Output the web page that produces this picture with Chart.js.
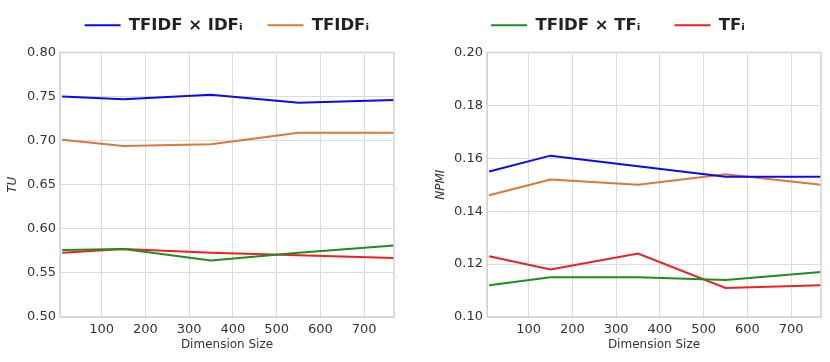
<!DOCTYPE html>
<html>
<head>
<meta charset="utf-8">
<script src="https://cdn.jsdelivr.net/npm/chart.js@4.4.1/dist/chart.umd.min.js"></script>
<style>
  html, body { margin: 0; padding: 0; background: #fff; }
  .wrap { position: absolute; top: 0; width: 415px; height: 362px; }
  #left { left: 0; }
  #right { left: 415px; }
</style>
</head>
<body>
<div class="wrap" id="left"><canvas id="tuChart"></canvas></div>
<div class="wrap" id="right"><canvas id="npmiChart"></canvas></div>
<script>
// Tamaños de dimensión (eje x)
const dimensionSizes = [10, 150, 350, 550, 768];
const xTicks = [100, 200, 300, 400, 500, 600, 700];

// Series TU
const tuTfidfIdf = [0.750, 0.747, 0.752, 0.743, 0.746];
const tuTfidf = [0.701, 0.694, 0.696, 0.709, 0.709];
const tuTfidfTf = [0.576, 0.577, 0.564, 0.573, 0.581];
const tuTf = [0.573, 0.577, 0.573, 0.570, 0.567];
const tuTicks = [0.50, 0.55, 0.60, 0.65, 0.70, 0.75, 0.80];

// Series NPMI
const npmiTfidfIdf = [0.155, 0.161, 0.157, 0.153, 0.153];
const npmiTfidf = [0.146, 0.152, 0.150, 0.154, 0.150];
const npmiTfidfTf = [0.112, 0.115, 0.115, 0.114, 0.117];
const npmiTf = [0.123, 0.118, 0.124, 0.111, 0.112];
const npmiTicks = [0.10, 0.12, 0.14, 0.16, 0.18, 0.20];

const seriesNames = ['TFIDF \u00d7 IDF\u1d62', 'TFIDF\u1d62', 'TFIDF \u00d7 TF\u1d62', 'TF\u1d62'];
const seriesColors = ['#0a0af5', '#dc7838', '#1e8c1e', '#f51e1e'];

Chart.defaults.font.family = 'DejaVu Sans';

function toPoints(values) {
    return values.map((v, i) => ({ x: dimensionSizes[i], y: v }));
}

// Marco gris alrededor del área de trazado
const frame = {
    id: 'frame',
    afterDatasetsDraw(chart) {
        const a = chart.chartArea;
        const ctx = chart.ctx;
        ctx.save();
        ctx.strokeStyle = '#d4d4d4';
        ctx.lineWidth = 1.5;
        ctx.strokeRect(a.left, a.top, a.right - a.left, a.bottom - a.top);
        ctx.restore();
    }
};

// Espacio extra bajo la leyenda
const legendGap = {
    id: 'legendGap',
    beforeInit(chart) {
        const fit = chart.legend.fit;
        chart.legend.fit = function () {
            fit.call(this);
            this.height += 9;
        };
    }
};

function buildChart(canvasId, series, yTicks, yTitle, shown, opts) {
    return new Chart(document.getElementById(canvasId), {
        type: 'line',
        data: {
            datasets: series.map((vals, i) => ({
                label: seriesNames[i],
                data: toPoints(vals),
                borderColor: seriesColors[i],
                backgroundColor: seriesColors[i],
                borderWidth: 2,
                pointRadius: 0,
                tension: 0
            }))
        },
        options: {
            responsive: true,
            maintainAspectRatio: false,
            animation: false,
            layout: { padding: opts.padding },
            plugins: {
                tooltip: { enabled: false },
                legend: {
                    align: opts.legendAlign,
                    labels: {
                        usePointStyle: true,
                        pointStyle: 'line',
                        pointStyleWidth: 36,
                        padding: opts.legendPad,
                        color: '#222',
                        font: { size: 16.5, weight: 'bold' },
                        filter: item => shown.includes(item.datasetIndex)
                    }
                }
            },
            scales: {
                x: {
                    type: 'linear',
                    min: 5,
                    max: 768,
                    afterBuildTicks: s => { s.ticks = xTicks.map(v => ({ value: v })); },
                    afterFit: s => { s.height = 45; },
                    grid: { color: '#dcdcdc', drawTicks: false },
                    border: { color: '#d4d4d4' },
                    ticks: { padding: 5, color: '#333', font: { size: 13 } },
                    title: {
                        display: true,
                        text: 'Dimension Size',
                        color: '#333',
                        font: { size: 12 },
                        padding: { top: 0, bottom: 10 }
                    }
                },
                y: {
                    min: yTicks[0],
                    max: yTicks[yTicks.length - 1],
                    afterBuildTicks: s => { s.ticks = yTicks.map(v => ({ value: v })); },
                    afterFit: s => { s.width = opts.yWidth; },
                    grid: { color: '#dcdcdc', drawTicks: false },
                    border: { color: '#d4d4d4' },
                    ticks: {
                        padding: 4,
                        color: '#333',
                        font: { size: 13 },
                        callback: v => v.toFixed(2)
                    },
                    title: {
                        display: true,
                        text: yTitle,
                        color: '#333',
                        font: { size: 12, style: 'italic' },
                        padding: { top: opts.titlePad, bottom: 0 }
                    }
                }
            }
        },
        plugins: [frame, legendGap]
    });
}

document.addEventListener('DOMContentLoaded', function () {
    buildChart('tuChart', [tuTfidfIdf, tuTfidf, tuTfidfTf, tuTf], tuTicks, 'TU', [0, 1],
        { padding: { top: -8, left: 0, right: 21, bottom: 0 }, yWidth: 60, titlePad: 6,
          legendAlign: 'end', legendPad: 25 });
    buildChart('npmiChart', [npmiTfidfIdf, npmiTfidf, npmiTfidfTf, npmiTf], npmiTicks, 'NPMI', [2, 3],
        { padding: { top: -17, left: 0, right: 9, bottom: 0 }, yWidth: 72, titlePad: 19,
          legendAlign: 'center', legendPad: 34 });
});
</script>
</body>
</html>
